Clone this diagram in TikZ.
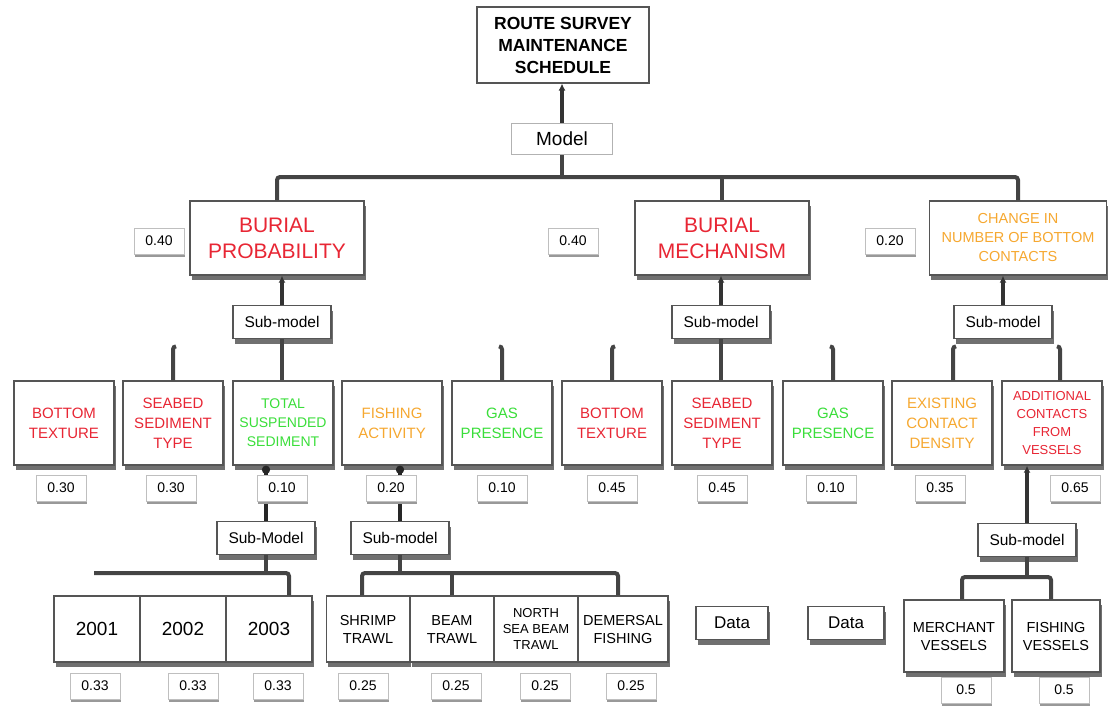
\documentclass[tikz,border=0pt]{standalone}
\usepackage{fontspec}
\setmainfont{Liberation Sans}
\usepackage{xcolor}
\usepackage{tikz}
\usetikzlibrary{arrows.meta,shadows}
\definecolor{burialred}{RGB}{232, 38, 52}
\definecolor{gasgreen}{RGB}{58, 222, 58}
\definecolor{contactorange}{RGB}{246, 168, 48}
\definecolor{linkgray}{RGB}{68, 68, 68}
\definecolor{edgegray}{RGB}{85, 85, 85}
\definecolor{shadegray}{RGB}{112, 112, 112}

\begin{document}
\begin{tikzpicture}[x=1pt, y=-1pt,
  topbox/.style={rectangle, draw=edgegray, fill=white, line width=1.1pt, minimum width=172pt, minimum height=76pt, align=center, inner sep=2pt, font={\fontsize{17.5}{22}\selectfont\bfseries}},
  modelbox/.style={rectangle, draw=black!30, fill=white, line width=1.1pt, minimum width=101pt, minimum height=31pt, font={\fontsize{19}{22}\selectfont}},
  mainbox/.style={rectangle, draw=edgegray, fill=white, line width=1.4pt, minimum width=174pt, minimum height=74pt, align=center, inner sep=2pt, drop shadow={shadow xshift=1.5pt, shadow yshift=-5pt, fill=shadegray, opacity=1}},
  factorbox/.style={mainbox, minimum width=100pt, minimum height=84pt, font={\fontsize{15}{20}\selectfont}},
  subbox/.style={mainbox, minimum width=98pt, minimum height=33pt, font={\fontsize{15.5}{18}\selectfont}},
  leafbox/.style={mainbox, minimum height=66pt, font={\fontsize{14.5}{18}\selectfont}},
  wbox/.style={rectangle, draw=black!25, fill=white, line width=1pt, minimum width=50pt, minimum height=26pt, font={\fontsize{14}{16}\selectfont}, drop shadow={shadow xshift=1pt, shadow yshift=-3pt, fill=black!40, opacity=1}},
  link/.style={line width=4pt, draw=linkgray, rounded corners=3pt},
  uplink/.style={line width=4pt, draw=black!80, -{Latex[length=7pt,width=7pt]}},
  dotlink/.style={line width=4pt, draw=black!85, -{Circle[length=8pt]}}
]
\useasboundingbox (0,0) rectangle (1110,705);

% Top: schedule and model
\node[topbox] (rsms) at (563,45) {ROUTE SURVEY\\MAINTENANCE\\SCHEDULE};
\node[modelbox] (model) at (562,139) {Model};

% First level: the three models
\node[mainbox, text=burialred, font={\fontsize{21}{26}\selectfont}] (bprob) at (277,238) {BURIAL\\PROBABILITY};
\node[mainbox, text=burialred, font={\fontsize{21}{26}\selectfont}] (bmech) at (722,238) {BURIAL\\MECHANISM};
\node[mainbox, minimum width=177pt, text=contactorange, font={\fontsize{14.5}{19}\selectfont}] (bcont) at (1018,238) {CHANGE IN\\NUMBER OF BOTTOM\\CONTACTS};

\node[subbox] (smbp) at (282,322) {Sub-model};
\node[subbox] (smbm) at (721,322) {Sub-model};
\node[subbox] (smbc) at (1003,322) {Sub-model};

% Second level: factors
\node[factorbox, text=burialred] (btex1) at (64,423) {BOTTOM\\TEXTURE};
\node[factorbox, text=burialred] (sst1) at (173,423) {SEABED\\SEDIMENT\\TYPE};
\node[factorbox, text=gasgreen, font={\fontsize{14}{19}\selectfont}] (tss) at (283,423) {TOTAL\\SUSPENDED\\SEDIMENT};
\node[factorbox, text=contactorange] (fish) at (392,423) {FISHING\\ACTIVITY};
\node[factorbox, text=gasgreen] (gas1) at (502,423) {GAS\\PRESENCE};
\node[factorbox, text=burialred] (btex2) at (612,423) {BOTTOM\\TEXTURE};
\node[factorbox, text=burialred] (sst2) at (722,423) {SEABED\\SEDIMENT\\TYPE};
\node[factorbox, text=gasgreen] (gas2) at (833,423) {GAS\\PRESENCE};
\node[factorbox, text=contactorange] (ecd) at (942,423) {EXISTING\\CONTACT\\DENSITY};
\node[factorbox, text=burialred, font={\fontsize{13}{18}\selectfont}] (acv) at (1052,423) {ADDITIONAL\\CONTACTS\\FROM\\VESSELS};

\node[subbox] (smtss) at (266,538) {Sub-Model};
\node[subbox] (smfish) at (400,538) {Sub-model};
\node[subbox] (smacv) at (1027,540) {Sub-model};

% Bottom: data leaves
\node[leafbox, minimum width=86pt, font={\fontsize{19}{22}\selectfont}] (y01) at (97,629) {2001};
\node[leafbox, minimum width=86pt, font={\fontsize{19}{22}\selectfont}] (y02) at (183,629) {2002};
\node[leafbox, minimum width=86pt, font={\fontsize{19}{22}\selectfont}] (y03) at (269,629) {2003};
\node[leafbox, minimum width=83pt] (shrimp) at (368,629) {SHRIMP\\TRAWL};
\node[leafbox, minimum width=84pt] (beam) at (452,629) {BEAM\\TRAWL};
\node[leafbox, minimum width=84pt, font={\fontsize{13}{16}\selectfont}] (north) at (536,629) {NORTH\\SEA BEAM\\TRAWL};
\node[leafbox, minimum width=90pt] (demersal) at (623,629) {DEMERSAL\\FISHING};
\node[leafbox, minimum width=72pt, minimum height=33pt, font={\fontsize{17}{20}\selectfont}] (data1) at (732,623) {Data};
\node[leafbox, minimum width=76pt, minimum height=33pt, font={\fontsize{17}{20}\selectfont}] (data2) at (846,623) {Data};
\node[leafbox, minimum width=100pt, minimum height=72pt] (merchant) at (954,636) {MERCHANT\\VESSELS};
\node[leafbox, minimum width=88pt, minimum height=72pt] (fishv) at (1056,636) {FISHING\\VESSELS};

% Connectors
\coordinate (bus) at (562,177);
\draw[uplink] (model.north) -- (model.north |- rsms.south);
\draw[link] (model.south) -- (bus);
\draw[link] (bprob.north) |- (bus) -| (bcont.north);
\draw[link] (bmech.north) -- (bmech.north |- bus);

\draw[uplink] (smbp.north) -- (smbp.north |- bprob.south);
\draw[uplink] (smbm.north) -- (smbm.north |- bmech.south);
\draw[uplink] (smbc.north) -- (smbc.north |- bcont.south);

\draw[link] (smbp.south) -- (smbp.south |- tss.north);
\draw[link] (sst1.north) -- ++(0,-34) -- ++(3,0);
\draw[link] (gas1.north) -- ++(0,-34) -- ++(-3,0);
\draw[link] (smbm.south) -- (smbm.south |- sst2.north);
\draw[link] (btex2.north) -- ++(0,-34) -- ++(3,0);
\draw[link] (gas2.north) -- ++(0,-34) -- ++(-3,0);
\draw[link] ([xshift=11pt]ecd.north) -- ++(0,-34) -- ++(3,0);
\draw[link] ([xshift=8pt]acv.north) -- ++(0,-34) -- ++(-3,0);

\draw[dotlink] (smtss.north) -- (smtss.north |- tss.south);
\draw[dotlink] (smfish.north) -- (smfish.north |- fish.south);
\draw[uplink] (smacv.north) -- (smacv.north |- acv.south);

\coordinate (ybus) at (94,573);
\coordinate (tbus) at (400,573);
\coordinate (vbus) at (1027,577);
\draw[link] (ybus) -| ([xshift=20pt]y03.north);
\draw[link] (smtss.south) -- (smtss.south |- ybus);
\draw[link] ([xshift=-6pt]shrimp.north) |- (tbus) -| ([xshift=-5pt]demersal.north);
\draw[link] (beam.north) -- (beam.north |- tbus);
\draw[link] (smfish.south) -- (tbus);
\draw[link] ([xshift=8pt]merchant.north) |- (vbus) -| ([xshift=-5pt]fishv.north);
\draw[link] (smacv.south) -- (vbus);

% Weights
\node[wbox] (wbp) at (159,241) {0.40};
\node[wbox] (wbm) at (573,241) {0.40};
\node[wbox] (wbc) at (890,241) {0.20};

\node[wbox] (wbtex1) at (61,488) {0.30};
\node[wbox] (wsst1) at (171,488) {0.30};
\node[wbox] (wtss) at (282,488) {0.10};
\node[wbox] (wfish) at (391,488) {0.20};
\node[wbox] (wgas1) at (502,488) {0.10};
\node[wbox] (wbtex2) at (612,488) {0.45};
\node[wbox] (wsst2) at (722,488) {0.45};
\node[wbox] (wgas2) at (831,488) {0.10};
\node[wbox] (wecd) at (940,488) {0.35};
\node[wbox] (wacv) at (1075,488) {0.65};

\node[wbox] (wy01) at (95,686) {0.33};
\node[wbox] (wy02) at (193,686) {0.33};
\node[wbox] (wy03) at (278,686) {0.33};
\node[wbox] (wshrimp) at (363,686) {0.25};
\node[wbox] (wbeam) at (456,686) {0.25};
\node[wbox] (wnorth) at (545,686) {0.25};
\node[wbox] (wdem) at (631,686) {0.25};
\node[wbox] (wmerch) at (966,690) {0.5};
\node[wbox] (wfishv) at (1064,690) {0.5};

\end{tikzpicture}
\end{document}
